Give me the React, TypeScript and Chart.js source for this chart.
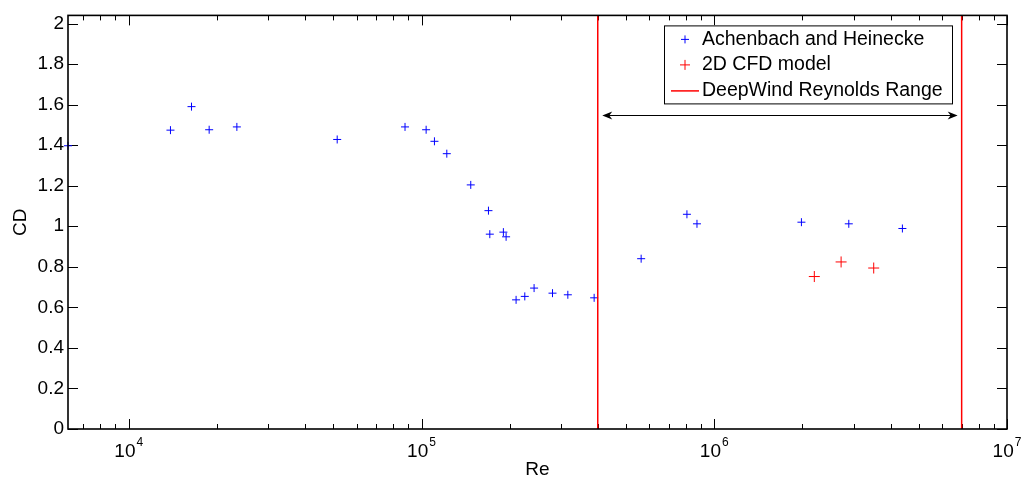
import React, { useEffect, useRef } from 'react';
import { Chart, registerables } from 'chart.js';

Chart.register(...registerables);

// ---- data ----
const achenbachRe = [6200, 13880, 16380, 18820, 23400, 51520, 87830, 103700, 110700, 122000, 147300, 169300, 171100, 190400, 194500, 210400, 225300, 242400, 280200, 316100, 388800, 562700, 806600, 872900, 1985000, 2881000, 4392000];
const achenbachCD = [1.397, 1.474, 1.59, 1.476, 1.49, 1.428, 1.49, 1.476, 1.419, 1.358, 1.204, 1.077, 0.961, 0.971, 0.948, 0.637, 0.654, 0.695, 0.67, 0.662, 0.647, 0.84, 1.059, 1.012, 1.02, 1.012, 0.989];
const cfdRe = [2197000, 2712000, 3505000];
const cfdCD = [0.752, 0.824, 0.794];
const rangeRe = [4.0e5, 7.0e6];
const arrowCD = 1.55;
const xLimits = [6200, 1e7];
const yLimits = [0, 2.04];
const yTicks = [0, 0.2, 0.4, 0.6, 0.8, 1, 1.2, 1.4, 1.6, 1.8, 2];
const xDecadeExponents = [4, 5, 6, 7];
const seriesLabels = ['Achenbach and Heinecke', '2D CFD model', 'DeepWind Reynolds Range'];
const xTitle = 'Re';
const yTitle = 'CD';

const FONT = "'Liberation Sans', Arial, Helvetica, sans-serif";
const BLUE = '#0000ff';
const RED = '#ff0000';

function drawCross(ctx: CanvasRenderingContext2D, x: number, y: number, r: number, color: string) {
  ctx.save();
  ctx.strokeStyle = color;
  ctx.lineWidth = 1;
  ctx.beginPath();
  ctx.moveTo(x - r, y);
  ctx.lineTo(x + r, y);
  ctx.moveTo(x, y - r);
  ctx.lineTo(x, y + r);
  ctx.stroke();
  ctx.restore();
}

const decorPlugin = {
  id: 'matlabDecor',
  beforeDatasetsDraw(chart: any) {
    const ctx: CanvasRenderingContext2D = chart.ctx;
    const area = chart.chartArea;
    const xs = chart.scales.x;
    const ys = chart.scales.y;
    ctx.save();
    // ticks (inward, all four sides)
    ctx.strokeStyle = '#000';
    ctx.lineWidth = 1;
    ctx.beginPath();
    for (const v of yTicks) {
      const py = Math.round(ys.getPixelForValue(v)) + 0.5;
      ctx.moveTo(area.left, py);
      ctx.lineTo(area.left + 10, py);
      ctx.moveTo(area.right, py);
      ctx.lineTo(area.right - 10, py);
    }
    const lo = Math.floor(Math.log10(xLimits[0]));
    const hi = Math.ceil(Math.log10(xLimits[1]));
    for (let e = lo; e <= hi; e++) {
      for (let m = 1; m <= 9; m++) {
        const v = m * Math.pow(10, e);
        if (v < xLimits[0] || v > xLimits[1]) continue;
        const len = m === 1 ? 10 : 5;
        const px = Math.round(xs.getPixelForValue(v)) + 0.5;
        ctx.moveTo(px, area.bottom);
        ctx.lineTo(px, area.bottom - len);
        ctx.moveTo(px, area.top);
        ctx.lineTo(px, area.top + len);
      }
    }
    ctx.stroke();
    ctx.restore();
  },
  afterDraw(chart: any) {
    const ctx: CanvasRenderingContext2D = chart.ctx;
    const area = chart.chartArea;
    const xs = chart.scales.x;
    const ys = chart.scales.y;
    ctx.save();

    // box
    ctx.lineWidth = 1.6;
    ctx.strokeStyle = '#000';
    ctx.strokeRect(area.left, area.top, area.right - area.left, area.bottom - area.top);

    // x tick labels 10^n
    ctx.fillStyle = '#000';
    ctx.textBaseline = 'alphabetic';
    for (const e of xDecadeExponents) {
      const px = xs.getPixelForValue(Math.pow(10, e));
      ctx.font = `19px ${FONT}`;
      const wBase = ctx.measureText('10').width;
      ctx.font = `12px ${FONT}`;
      const wExp = ctx.measureText(String(e)).width;
      const start = px - (wBase + wExp + 1) / 2;
      ctx.textAlign = 'left';
      ctx.font = `19px ${FONT}`;
      ctx.fillText('10', start, area.bottom + 28);
      ctx.font = `12px ${FONT}`;
      ctx.fillText(String(e), start + wBase + 1, area.bottom + 17);
    }

    // double arrow across the Reynolds range
    const ay = Math.round(ys.getPixelForValue(arrowCD)) + 0.5;
    const x1 = xs.getPixelForValue(rangeRe[0]) + 4.5;
    const x2 = xs.getPixelForValue(rangeRe[1]) - 4;
    ctx.strokeStyle = '#000';
    ctx.lineWidth = 1;
    ctx.beginPath();
    ctx.moveTo(x1 + 4, ay);
    ctx.lineTo(x2 - 4, ay);
    ctx.stroke();
    ctx.fillStyle = '#000';
    ctx.beginPath();
    ctx.moveTo(x1, ay);
    ctx.lineTo(x1 + 10, ay - 4);
    ctx.lineTo(x1 + 7, ay);
    ctx.lineTo(x1 + 10, ay + 4);
    ctx.closePath();
    ctx.fill();
    ctx.beginPath();
    ctx.moveTo(x2, ay);
    ctx.lineTo(x2 - 10, ay - 4);
    ctx.lineTo(x2 - 7, ay);
    ctx.lineTo(x2 - 10, ay + 4);
    ctx.closePath();
    ctx.fill();

    // legend box
    const bx = area.right - 343;
    const by = area.top + 10;
    const bw = 288;
    const bh = 78;
    ctx.fillStyle = '#fff';
    ctx.fillRect(bx, by, bw, bh);
    ctx.strokeStyle = '#000';
    ctx.lineWidth = 1;
    ctx.strokeRect(bx + 0.5, by + 0.5, bw, bh);
    const rows = [by + 14, by + 39.5, by + 65.5];
    const mx = bx + 21;
    drawCross(ctx, mx, rows[0], 4, BLUE);
    drawCross(ctx, mx, rows[1], 5, RED);
    ctx.strokeStyle = RED;
    ctx.lineWidth = 1.5;
    ctx.beginPath();
    ctx.moveTo(bx + 7, rows[2]);
    ctx.lineTo(bx + 35, rows[2]);
    ctx.stroke();
    ctx.fillStyle = '#000';
    ctx.font = `19.5px ${FONT}`;
    ctx.textAlign = 'left';
    ctx.textBaseline = 'middle';
    seriesLabels.forEach((t, i) => ctx.fillText(t, bx + 38, rows[i]));

    ctx.restore();
  },
};

export default function App() {
  const canvasRef = useRef<HTMLCanvasElement | null>(null);

  useEffect(() => {
    if (!canvasRef.current) return;
    const rangeData: any[] = [
      { x: rangeRe[0], y: yLimits[0] },
      { x: rangeRe[0], y: yLimits[1] },
      { x: rangeRe[0], y: null },
      { x: rangeRe[1], y: yLimits[0] },
      { x: rangeRe[1], y: yLimits[1] },
    ];
    const chart = new Chart(canvasRef.current, {
      type: 'scatter',
      data: {
        datasets: [
          {
            label: seriesLabels[2],
            data: rangeData,
            showLine: true,
            spanGaps: false,
            borderColor: RED,
            borderWidth: 1.5,
            pointRadius: 0,
            pointHoverRadius: 0,
          },
          {
            label: seriesLabels[0],
            data: achenbachRe.map((x, i) => ({ x, y: achenbachCD[i] })),
            pointStyle: 'cross',
            pointRadius: 4,
            pointHoverRadius: 4,
            borderColor: BLUE,
            backgroundColor: BLUE,
            borderWidth: 1,
            showLine: false,
            clip: false,
          },
          {
            label: seriesLabels[1],
            data: cfdRe.map((x, i) => ({ x, y: cfdCD[i] })),
            pointStyle: 'cross',
            pointRadius: 5.5,
            pointHoverRadius: 5.5,
            borderColor: RED,
            backgroundColor: RED,
            borderWidth: 1,
            showLine: false,
          },
        ] as any,
      },
      options: {
        animation: false,
        responsive: false,
        events: [],
        layout: { padding: { left: 9, right: 18, top: 13, bottom: 0 } },
        plugins: {
          legend: { display: false },
          tooltip: { enabled: false },
          title: { display: false },
        },
        scales: {
          x: {
            type: 'logarithmic',
            min: xLimits[0],
            max: xLimits[1],
            bounds: 'data',
            grid: { display: false, drawTicks: false },
            border: { display: false },
            ticks: { display: false },
            title: {
              display: true,
              text: xTitle,
              color: '#000',
              font: { family: FONT, size: 19 },
              padding: { top: 0, bottom: -2 },
            },
            afterFit: (scale: any) => {
              scale.height = 50;
            },
          },
          y: {
            type: 'linear',
            min: yLimits[0],
            max: yLimits[1],
            grid: { display: false, drawTicks: false },
            border: { display: false },
            afterBuildTicks: (scale: any) => {
              scale.ticks = yTicks.map((v) => ({ value: v }));
            },
            ticks: {
              color: '#000',
              padding: 4,
              font: { family: FONT, size: 19 },
              callback: (v: any) => String(Math.round(Number(v) * 10) / 10),
            },
            title: {
              display: true,
              text: yTitle,
              color: '#000',
              font: { family: FONT, size: 19 },
              padding: { top: 0, bottom: 0 },
            },
            afterFit: (scale: any) => {
              scale.width = 59;
            },
          },
        },
      } as any,
      plugins: [decorPlugin],
    });
    return () => chart.destroy();
  }, []);

  return (
    <div style={{ position: 'absolute', left: 0, top: 0, width: 1025, height: 479, background: '#fff' }}>
      <canvas ref={canvasRef} width={1025} height={479} style={{ display: 'block' }} />
    </div>
  );
}
